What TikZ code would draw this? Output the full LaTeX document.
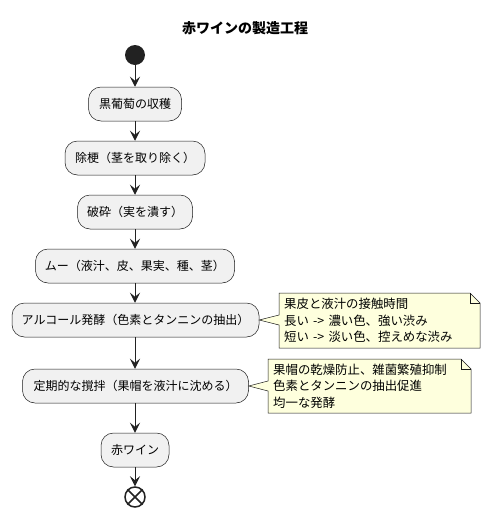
\documentclass[tikz,border=0pt]{standalone}
\usepackage{fontspec}
\setmainfont{Noto Sans CJK JP}
\newfontfamily\notefont[WordSpace=1.5]{Noto Sans CJK JP}
\usetikzlibrary{arrows.meta}
\definecolor{boxfill}{HTML}{F1F1F1}
\definecolor{boxline}{HTML}{181818}
\definecolor{notefill}{HTML}{FEFFDD}
\definecolor{ink}{HTML}{222222}
\begin{document}
\begin{tikzpicture}[x=1pt,y=-1pt,
 actbox/.style={draw=boxline, line width=0.5pt, fill=boxfill, rounded corners=12.5pt, minimum height=34pt, inner sep=0pt, font=\fontsize{12}{14}\selectfont, text=black},
 flow/.style={draw=ink, line width=1pt, -{Stealth[length=10pt,width=10pt,inset=4pt]}},
 notebody/.style={draw=boxline, line width=0.5pt, fill=notefill},
 notefold/.style={draw=boxline, line width=0.5pt},
 notetext/.style={anchor=west, align=left, inner sep=0pt, font=\notefont\fontsize{12.4}{16.5}\selectfont}]
\useasboundingbox (0,0) rectangle (490,517);
\node[font=\fontsize{14}{16}\selectfont\bfseries] (title) at (245,28) {赤ワインの製造工程};
\node[circle, fill=ink, minimum size=20pt, inner sep=0pt] (start) at (135,55) {};
\node[actbox, minimum width=93pt] (b1) at (135,104) {黒葡萄の収穫};
\node[actbox, minimum width=140pt] (b2) at (135,158) {除梗（茎を取り除く）};
\node[actbox, minimum width=115pt] (b3) at (135,212) {破砕（実を潰す）};
\node[actbox, minimum width=199pt] (b4) at (135,266) {ムー（液汁、皮、果実、種、茎）};
\node[actbox, minimum width=247pt] (b5) at (135.5,320) {アルコール発酵（色素とタンニンの抽出）};
\node[actbox, minimum width=226pt] (b6) at (135.5,386) {定期的な撹拌（果帽を液汁に沈める）};
\node[actbox, minimum width=68pt] (b7) at (135,450) {赤ワイン};
\node[circle, draw=ink, line width=1.5pt, fill=white, minimum size=20pt, inner sep=0pt] (end) at (135,497) {};
\draw[ink, line width=1.5pt] (end.45) -- (end.225) (end.135) -- (end.315);
\draw[flow] (start) -- (b1);
\draw[flow] (b1) -- (b2);
\draw[flow] (b2) -- (b3);
\draw[flow] (b3) -- (b4);
\draw[flow] (b4.south) -- (b5.north -| b4.south);
\draw[flow] (b5.south -| b4.south) -- (b6.north -| b4.south);
\draw[flow] (b6.south -| b7.north) -- (b7.north);
\draw[flow] (b7) -- (end);
% note 1
\path[notebody] (279,293) -- (470,293) -- (480,303) -- (480,348) -- (279,348) -- (279,325) -- (b5.east) -- (279,315) -- cycle;
\draw[notefold] (470,293) -- (470,303) -- (480,303);
\node[notetext] (n1) at (284,320.5) {果皮と液汁の接触時間\\長い -> 濃い色、強い渋み\\短い -> 淡い色、控えめな渋み};
% note 2
\path[notebody] (268,359) -- (461,359) -- (471,369) -- (471,413) -- (268,413) -- (268,391) -- (b6.east) -- (268,381) -- cycle;
\draw[notefold] (461,359) -- (461,369) -- (471,369);
\node[notetext] (n2) at (273,386) {果帽の乾燥防止、雑菌繁殖抑制\\色素とタンニンの抽出促進\\均一な発酵};
\end{tikzpicture}
\end{document}
